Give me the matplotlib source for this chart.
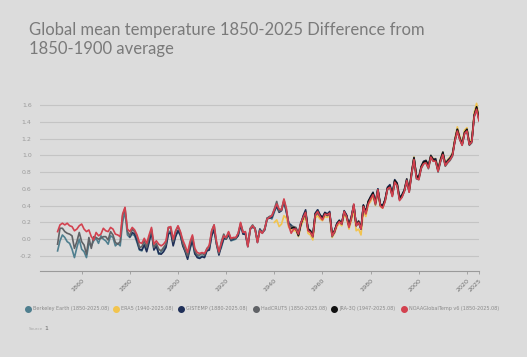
import matplotlib
matplotlib.use("Agg")
import matplotlib.pyplot as plt
from matplotlib.lines import Line2D
import numpy as np

years_1850 = list(range(1850, 2026))
years_1880 = list(range(1880, 2026))
years_1940 = list(range(1940, 2026))
years_1947 = list(range(1947, 2026))

berkeley = [
    -0.14, -0.02, 0.05, 0.02, -0.03, -0.05, -0.12, -0.22, -0.10, 0.00,
    -0.12, -0.15, -0.22, -0.05, -0.08, -0.02, 0.01, -0.05, 0.04, 0.00,
    -0.02, -0.06, 0.04, 0.02, -0.08, -0.05, -0.08, 0.20, 0.33, 0.05,
    0.02, 0.06, 0.04, -0.04, -0.13, -0.14, -0.06, -0.12, -0.02, 0.10,
    -0.12, -0.08, -0.18, -0.15, -0.12, -0.08, 0.08, 0.10, -0.06, 0.04,
    0.10, 0.04, -0.07, -0.14, -0.22, -0.12, -0.02, -0.18, -0.20, -0.22,
    -0.20, -0.21, -0.13, -0.12, 0.05, 0.12, -0.04, -0.16, -0.10, 0.00,
    0.02, 0.06, -0.02, -0.01, 0.00, 0.05, 0.16, 0.08, 0.06, -0.06,
    0.12, 0.14, 0.13, -0.02, 0.12, 0.07, 0.11, 0.23, 0.27, 0.24,
    0.32, 0.40, 0.34, 0.36, 0.45, 0.32, 0.19, 0.17, 0.14, 0.13,
    0.05, 0.19, 0.27, 0.33, 0.13, 0.10, 0.05, 0.30, 0.35, 0.29,
    0.25, 0.31, 0.30, 0.31, 0.05, 0.09, 0.19, 0.23, 0.17, 0.32,
    0.28, 0.16, 0.25, 0.41, 0.16, 0.21, 0.12, 0.40, 0.32, 0.43,
    0.49, 0.55, 0.43, 0.60, 0.41, 0.39, 0.46, 0.60, 0.64, 0.53,
    0.69, 0.65, 0.48, 0.51, 0.58, 0.71, 0.57, 0.77, 0.98, 0.74,
    0.73, 0.86, 0.92, 0.93, 0.86, 0.99, 0.94, 0.95, 0.82, 0.93,
    1.02, 0.88, 0.92, 0.96, 1.01, 1.19, 1.32, 1.21, 1.13, 1.28,
    1.31, 1.14, 1.17, 1.48, 1.58, 1.44,
]

era5 = [
    0.20, 0.23, 0.15, 0.18, 0.28, 0.25, 0.14, 0.12, 0.10, 0.10,
    0.03, 0.15, 0.22, 0.27, 0.07, 0.05, -0.01, 0.25, 0.28, 0.24,
    0.22, 0.27, 0.26, 0.28, 0.02, 0.07, 0.15, 0.19, 0.16, 0.29,
    0.25, 0.12, 0.22, 0.35, 0.10, 0.12, 0.05, 0.33, 0.27, 0.41,
    0.45, 0.52, 0.40, 0.56, 0.39, 0.37, 0.45, 0.60, 0.63, 0.52,
    0.68, 0.66, 0.48, 0.52, 0.58, 0.72, 0.58, 0.79, 0.98, 0.74,
    0.72, 0.87, 0.92, 0.94, 0.87, 1.00, 0.96, 0.96, 0.83, 0.96,
    1.04, 0.90, 0.95, 0.98, 1.03, 1.20, 1.34, 1.23, 1.15, 1.30,
    1.33, 1.15, 1.19, 1.51, 1.62, 1.46,
]

gistemp = [
    0.03, 0.08, 0.06, -0.02, -0.12, -0.13, -0.07, -0.15, -0.04, 0.09,
    -0.13, -0.08, -0.17, -0.18, -0.15, -0.10, 0.06, 0.08, -0.08, 0.03,
    0.10, 0.05, -0.08, -0.15, -0.24, -0.10, -0.02, -0.17, -0.22, -0.23,
    -0.21, -0.22, -0.14, -0.13, 0.04, 0.11, -0.06, -0.19, -0.08, 0.01,
    0.00, 0.05, -0.01, 0.00, 0.01, 0.04, 0.17, 0.06, 0.06, -0.09,
    0.12, 0.15, 0.13, -0.04, 0.12, 0.08, 0.11, 0.25, 0.25, 0.26,
    0.34, 0.39, 0.32, 0.34, 0.45, 0.33, 0.19, 0.16, 0.13, 0.13,
    0.04, 0.17, 0.28, 0.35, 0.11, 0.09, 0.03, 0.31, 0.35, 0.29,
    0.26, 0.32, 0.30, 0.33, 0.04, 0.08, 0.19, 0.22, 0.18, 0.34,
    0.29, 0.17, 0.27, 0.41, 0.16, 0.20, 0.12, 0.41, 0.32, 0.45,
    0.51, 0.56, 0.44, 0.60, 0.42, 0.40, 0.47, 0.62, 0.65, 0.54,
    0.71, 0.67, 0.50, 0.53, 0.59, 0.72, 0.59, 0.79, 0.97, 0.76,
    0.74, 0.87, 0.93, 0.94, 0.88, 1.00, 0.95, 0.96, 0.83, 0.95,
    1.04, 0.90, 0.94, 0.97, 1.02, 1.18, 1.31, 1.21, 1.14, 1.27,
    1.31, 1.14, 1.17, 1.48, 1.57, 1.43,
]

hadcrut5 = [
    -0.06, 0.13, 0.13, 0.09, 0.07, 0.06, 0.04, -0.11, -0.03, 0.08,
    -0.03, -0.07, -0.18, 0.02, -0.11, 0.03, 0.02, 0.00, 0.01, 0.03,
    0.03, -0.01, 0.09, 0.05, -0.04, -0.06, -0.03, 0.28, 0.37, 0.09,
    0.04, 0.12, 0.09, 0.03, -0.10, -0.09, -0.02, -0.10, 0.02, 0.12,
    -0.10, -0.05, -0.12, -0.14, -0.10, -0.06, 0.14, 0.13, -0.03, 0.09,
    0.15, 0.08, -0.05, -0.13, -0.20, -0.06, 0.03, -0.14, -0.19, -0.19,
    -0.17, -0.19, -0.11, -0.09, 0.10, 0.17, -0.06, -0.17, -0.03, 0.06,
    0.00, 0.08, 0.00, 0.01, 0.01, 0.07, 0.19, 0.09, 0.08, -0.08,
    0.13, 0.17, 0.12, -0.03, 0.11, 0.08, 0.13, 0.25, 0.27, 0.28,
    0.36, 0.45, 0.33, 0.35, 0.47, 0.35, 0.17, 0.15, 0.15, 0.14,
    0.07, 0.20, 0.25, 0.31, 0.11, 0.09, 0.03, 0.28, 0.31, 0.27,
    0.24, 0.30, 0.28, 0.30, 0.03, 0.10, 0.18, 0.21, 0.18, 0.32,
    0.27, 0.15, 0.26, 0.40, 0.17, 0.22, 0.13, 0.39, 0.31, 0.44,
    0.48, 0.54, 0.41, 0.58, 0.40, 0.38, 0.45, 0.59, 0.62, 0.51,
    0.67, 0.64, 0.47, 0.50, 0.57, 0.69, 0.56, 0.76, 0.96, 0.72,
    0.71, 0.84, 0.90, 0.91, 0.84, 0.97, 0.93, 0.93, 0.80, 0.92,
    1.00, 0.87, 0.91, 0.94, 0.99, 1.17, 1.30, 1.19, 1.12, 1.26,
    1.29, 1.12, 1.15, 1.46, 1.55, 1.42,
]

jra3q = [
    0.13, 0.14, 0.12,
    0.05, 0.18, 0.26, 0.32, 0.12, 0.10, 0.04, 0.30, 0.33, 0.28,
    0.25, 0.31, 0.29, 0.31, 0.06, 0.10, 0.18, 0.22, 0.19, 0.33,
    0.28, 0.16, 0.26, 0.40, 0.17, 0.21, 0.13, 0.40, 0.32, 0.45,
    0.50, 0.55, 0.43, 0.59, 0.41, 0.39, 0.47, 0.61, 0.63, 0.53,
    0.70, 0.66, 0.48, 0.52, 0.58, 0.70, 0.58, 0.79, 0.97, 0.75,
    0.73, 0.86, 0.92, 0.93, 0.86, 0.99, 0.95, 0.94, 0.82, 0.94,
    1.03, 0.89, 0.93, 0.96, 1.01, 1.18, 1.31, 1.20, 1.13, 1.27,
    1.31, 1.13, 1.17, 1.47, 1.58, 1.43,
]

noaa = [
    0.09, 0.17, 0.19, 0.17, 0.19, 0.16, 0.15, 0.10, 0.12, 0.16,
    0.18, 0.12, 0.09, 0.11, 0.03, -0.01, 0.08, 0.04, 0.06, 0.13,
    0.10, 0.09, 0.14, 0.12, 0.06, 0.05, 0.03, 0.30, 0.38, 0.12,
    0.09, 0.14, 0.11, 0.05, -0.04, -0.05, 0.01, -0.05, 0.05, 0.14,
    -0.06, -0.02, -0.06, -0.08, -0.06, -0.02, 0.14, 0.15, 0.00, 0.10,
    0.16, 0.09, -0.01, -0.08, -0.16, -0.03, 0.05, -0.11, -0.16, -0.17,
    -0.16, -0.17, -0.12, -0.07, 0.10, 0.17, -0.03, -0.15, -0.05, 0.04,
    0.02, 0.09, 0.01, 0.02, 0.02, 0.07, 0.20, 0.08, 0.09, -0.09,
    0.12, 0.16, 0.12, -0.04, 0.10, 0.07, 0.12, 0.24, 0.26, 0.28,
    0.35, 0.42, 0.36, 0.35, 0.48, 0.37, 0.16, 0.07, 0.12, 0.12,
    0.06, 0.19, 0.26, 0.32, 0.10, 0.08, 0.03, 0.29, 0.33, 0.27,
    0.23, 0.30, 0.29, 0.31, 0.04, 0.09, 0.17, 0.21, 0.18, 0.33,
    0.27, 0.14, 0.25, 0.42, 0.16, 0.20, 0.12, 0.39, 0.30, 0.42,
    0.48, 0.53, 0.42, 0.59, 0.40, 0.37, 0.45, 0.60, 0.62, 0.51,
    0.68, 0.64, 0.46, 0.50, 0.57, 0.70, 0.56, 0.78, 0.95, 0.73,
    0.71, 0.85, 0.90, 0.91, 0.85, 0.98, 0.93, 0.93, 0.81, 0.93,
    1.01, 0.88, 0.92, 0.95, 1.00, 1.17, 1.29, 1.19, 1.12, 1.26,
    1.29, 1.13, 1.16, 1.46, 1.55, 1.41,
]

series_labels = [
    "Berkeley Earth (1850-2025.08)",
    "ERA5 (1940-2025.08)",
    "GISTEMP (1880-2025.08)",
    "HadCRUT5 (1850-2025.08)",
    "JRA-3Q (1947-2025.08)",
    "NOAAGlobalTemp v6 (1850-2025.08)",
]
series_colors = ["#4f7f8f", "#f2c44e", "#1f2f58", "#606266", "#111111", "#d3414f"]
x_ticks = [1860, 1880, 1900, 1920, 1940, 1960, 1980, 2000, 2020, 2025]
y_ticks = [-0.2, 0.0, 0.2, 0.4, 0.6, 0.8, 1.0, 1.2, 1.4, 1.6]

BG = "#dcdcdc"
W, H = 527, 357
fig = plt.figure(figsize=(W / 100, H / 100), dpi=100, facecolor=BG)
ax = fig.add_axes([40 / W, 1 - 271 / H, (479 - 40) / W, (271 - 95) / H])
ax.set_facecolor(BG)

xs = [years_1850, years_1940, years_1880, years_1850, years_1947, years_1850]
ys = [berkeley, era5, gistemp, hadcrut5, jra3q, noaa]
for x, y, c in zip(xs, ys, series_colors):
    ax.plot(x, y, color=c, lw=1.2, solid_joinstyle="round")

ax.set_xlim(1842.7, 2025)
ax.set_ylim(-0.38, 1.72)
ax.set_yticks(y_ticks)
ax.set_yticklabels([f"{v:.1f}" for v in y_ticks])
ax.set_xticks(x_ticks)
ax.set_xticklabels([str(v) for v in x_ticks], rotation=45, ha="right", va="top",
                   rotation_mode="anchor")
ax.grid(axis="y", color="#c4c4c4", lw=0.8)
ax.set_axisbelow(True)
for s in ["top", "right", "left"]:
    ax.spines[s].set_visible(False)
ax.spines["bottom"].set_color("#9a9a9a")
ax.spines["bottom"].set_linewidth(0.8)
ax.tick_params(axis="y", length=0, labelsize=4.5, labelcolor="#9a9a9a", pad=6)
ax.tick_params(axis="x", length=2, width=0.6, color="#9a9a9a", labelsize=4.6,
               labelcolor="#707070", pad=3)

fig.text(29 / W, 1 - 22 / H, "Global mean temperature 1850-2025 Difference from\n1850-1900 average",
         fontsize=12, color="#7a7a7a", family="Lato",
         va="top", ha="left", linespacing=1.2)

marker_x = [28, 116, 181, 256, 334, 404]
for mx, lab, c in zip(marker_x, series_labels, series_colors):
    fig.add_artist(Line2D([mx / W], [1 - 308.5 / H], marker="o", ms=4.0, color=c,
                          transform=fig.transFigure, lw=0))
    fig.text((mx + 5) / W, 1 - 308.5 / H, lab, fontsize=3.5, color="#8a8a8a",
             va="center", ha="left")

fig.text(29 / W, 1 - 329 / H, "Source", fontsize=3.0, color="#a8a8a8", va="center")
fig.text(44 / W, 1 - 328.5 / H, "1", fontsize=4.5, color="#6a6a6a", va="center")

fig.savefig("out.png", dpi=100, facecolor=BG)
